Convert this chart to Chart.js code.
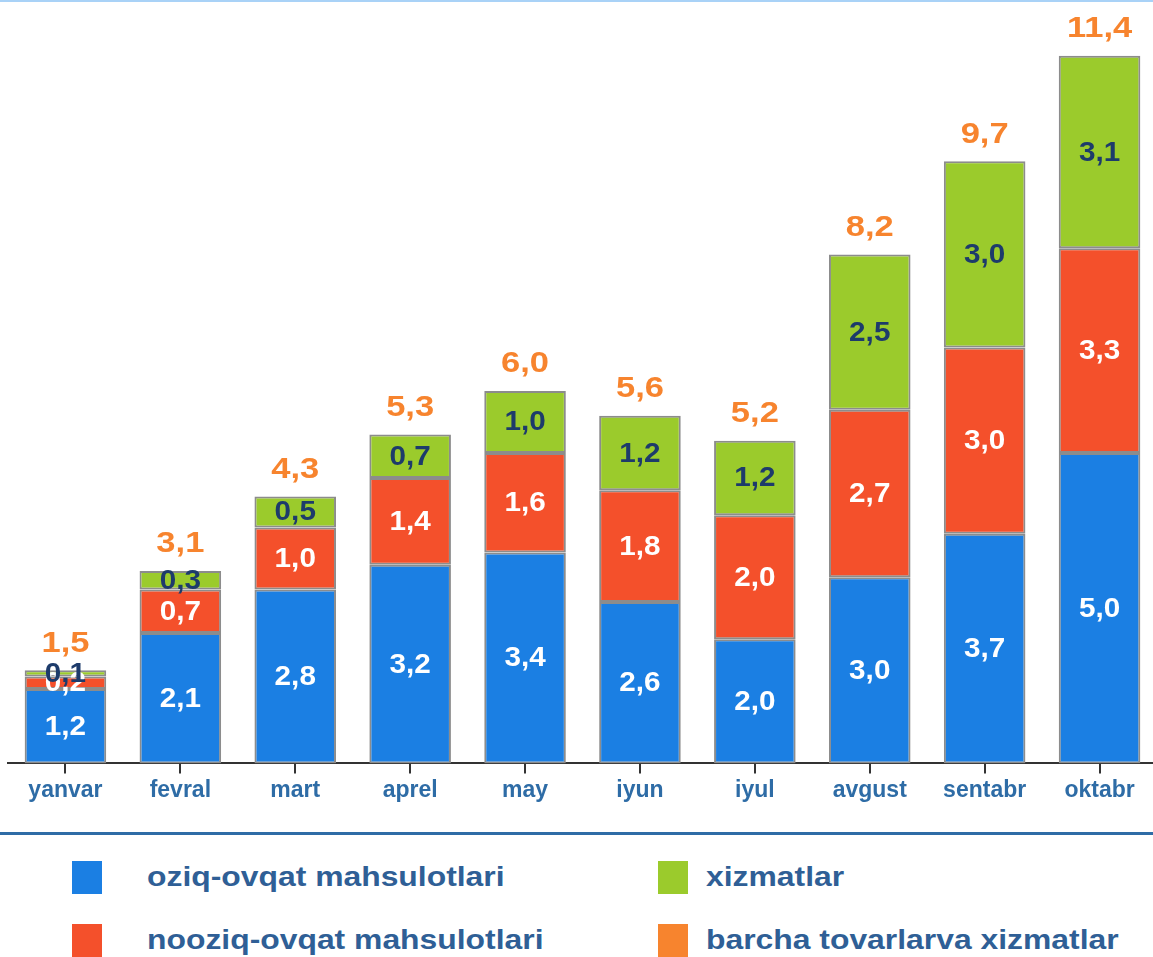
<!DOCTYPE html>
<html>
<head>
<meta charset="utf-8">
<script src="https://cdn.jsdelivr.net/npm/chart.js@4/dist/chart.umd.min.js"></script>
<style>
  html, body { margin: 0; padding: 0; background: #fff; overflow: hidden; }
  body { width: 1153px; height: 957px; position: relative; font-family: "Liberation Sans", Arial, sans-serif; }
  #topline { position: absolute; left: 0; top: 0; width: 1153px; height: 2px; background: #a9d2f7; }
  #wrap { position: absolute; left: 0; top: 0; width: 1160px; height: 820px; }
  #sep { position: absolute; left: 0; top: 832px; width: 1153px; height: 3px; background: #2e6ca6; }
  .leg { position: absolute; font-weight: bold; font-size: 27px; color: #2f5f96; white-space: nowrap;
         transform: scaleX(1.18); transform-origin: left center; }
  .box { position: absolute; width: 30px; height: 33px; }
</style>
</head>
<body>
<div id="topline"></div>
<div id="wrap"><canvas id="bars" width="1160" height="820"></canvas></div>
<div id="sep"></div>
<div id="legend"></div>
<script>
// oylar va qiymatlar
const months = ['yanvar', 'fevral', 'mart', 'aprel', 'may', 'iyun', 'iyul', 'avgust', 'sentabr', 'oktabr']
const food = [1.2, 2.1, 2.8, 3.2, 3.4, 2.6, 2.0, 3.0, 3.7, 5.0]
const nonFood = [0.2, 0.7, 1.0, 1.4, 1.6, 1.8, 2.0, 2.7, 3.0, 3.3]
const services = [0.1, 0.3, 0.5, 0.7, 1.0, 1.2, 1.2, 2.5, 3.0, 3.1]
const totals = [1.5, 3.1, 4.3, 5.3, 6.0, 5.6, 5.2, 8.2, 9.7, 11.4]

const seriesNames = ['oziq-ovqat mahsulotlari', 'nooziq-ovqat mahsulotlari', 'xizmatlar', 'barcha tovarlarva xizmatlar']
const colors = ['#1b7fe3', '#f4502b', '#9bcb2c', '#f7842e']

const fmt = v => v.toFixed(1).replace('.', ',')

// matnni biroz kengaytirib chizamiz (asl rasmdagidek)
const wideText = (ctx, txt, x, y, sx) => {
    ctx.save()
    ctx.translate(x, y)
    ctx.scale(sx, 1)
    ctx.fillText(txt, 0, 0)
    ctx.restore()
}

// yozuvlar uchun oddiy plagin
const labelsPlugin = {
    id: 'labels',
    afterDatasetsDraw(chart) {
        const ctx = chart.ctx
        ctx.save()
        ctx.textAlign = 'center'
        ctx.textBaseline = 'middle'
        ctx.font = 'bold 27px "Liberation Sans", Arial, sans-serif'
        chart.data.datasets.forEach((ds, i) => {
            const meta = chart.getDatasetMeta(i)
            ctx.fillStyle = i === 2 ? '#1d3b6b' : '#ffffff'
            meta.data.forEach((bar, j) => {
                wideText(ctx, fmt(ds.data[j]), bar.x, (bar.y + bar.base) / 2 + 1, 1.1)
            })
        })
        // jami qiymatlar
        const top = chart.getDatasetMeta(2)
        ctx.font = 'bold 30px "Liberation Sans", Arial, sans-serif'
        ctx.fillStyle = colors[3]
        top.data.forEach((bar, j) => {
            wideText(ctx, fmt(totals[j]), bar.x, bar.y - 27, 1.15)
        })
        ctx.restore()
    }
}

const makeSet = (label, data, color) => ({
    label, data,
    backgroundColor: color,
    borderColor: '#8c8c8c',
    borderWidth: 2,
    borderSkipped: false,
    barPercentage: 0.71,
    categoryPercentage: 1
})

new Chart('bars', {
    type: 'bar',
    data: {
        labels: months,
        datasets: [
            makeSet(seriesNames[0], food, colors[0]),
            makeSet(seriesNames[1], nonFood, colors[1]),
            makeSet(seriesNames[2], services, colors[2])
        ]
    },
    options: {
        responsive: false,
        animation: false,
        layout: { padding: { left: 8, right: 3, top: 0, bottom: 13 } },
        plugins: { legend: { display: false }, tooltip: { enabled: false } },
        scales: {
            x: {
                stacked: true,
                border: { display: true, color: '#333', width: 2 },
                grid: { display: true, drawOnChartArea: false, offset: false, tickLength: 10, color: '#333', lineWidth: 2 },
                ticks: { color: '#2e6ca6', font: { family: '"Liberation Sans", Arial, sans-serif', size: 23, weight: 'bold' }, padding: 3 }
            },
            y: { stacked: true, display: false, min: 0, max: 12.3 }
        }
    },
    plugins: [labelsPlugin]
})

// legenda
const pos = [[72, 861], [72, 924], [658, 861], [658, 924]]
const legend = document.getElementById('legend')
seriesNames.forEach((name, i) => {
    const b = document.createElement('div')
    b.className = 'box'
    b.style.left = pos[i][0] + 'px'
    b.style.top = pos[i][1] + 'px'
    b.style.background = colors[i]
    legend.appendChild(b)
    const t = document.createElement('div')
    t.className = 'leg'
    t.textContent = name
    t.style.left = (pos[i][0] + (i < 2 ? 75 : 48)) + 'px'
    t.style.top = (pos[i][1] + 1) + 'px'
    legend.appendChild(t)
})
</script>
</body>
</html>
